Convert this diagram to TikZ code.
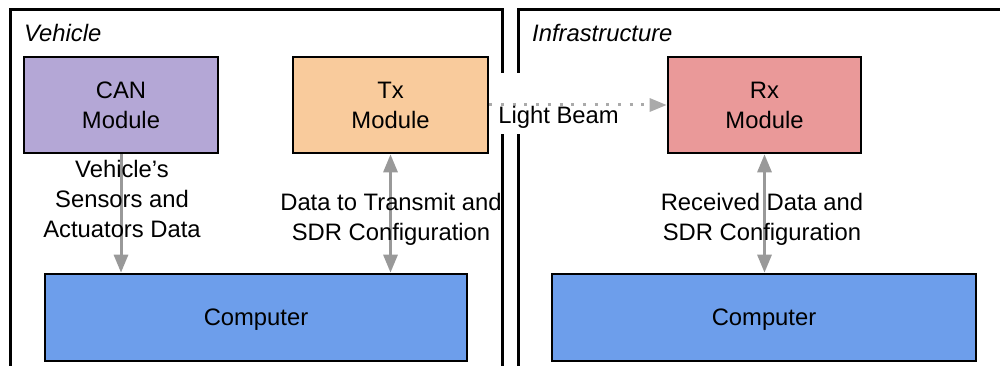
\documentclass[tikz,border=0pt]{standalone}
\usepackage{fontspec}
\setmainfont{Liberation Sans}
\usetikzlibrary{arrows.meta}

\definecolor{canfill}{HTML}{B4A7D6}
\definecolor{txfill}{HTML}{F9CB9C}
\definecolor{rxfill}{HTML}{EA9999}
\definecolor{pcfill}{HTML}{6D9EEB}
\definecolor{linkgray}{HTML}{999999}
\definecolor{beamgray}{HTML}{AAAAAA}

\begin{document}
\begin{tikzpicture}[
  x=1pt, y=-1pt,
  every node/.style={font=\fontsize{23.8}{30}\selectfont, inner sep=0pt},
  frame/.style={draw=black, line width=3pt},
  module/.style={draw=black, line width=2.6pt, align=center},
  pc/.style={module, fill=pcfill, minimum height=87pt, text depth=0pt},
  link/.style={draw=linkgray, line width=3pt},
  tipdown/.style={-{Triangle[length=18pt,width=14pt]}},
  tipboth/.style={{Triangle[length=18pt,width=14pt]}-{Triangle[length=18pt,width=14pt]}},
  beam/.style={draw=beamgray, line width=3pt, dash pattern=on 3pt off 8.7pt,
               -{Triangle[length=17pt,width=13pt]}},
  caption/.style={align=center},
  title/.style={anchor=base west, font=\fontsize{23.8}{30}\selectfont\itshape}
]
\useasboundingbox (0,0) rectangle (1000,366);
\clip (0,0) rectangle (1000,366);

% two open-bottomed frames
\draw[frame] (10,380) -- (10,10) -- (502,10) -- (502,380);
\draw[frame] (518,380) -- (518,10) -- (1010,10);
\node[title] (vehtitle) at (24,42) {Vehicle};
\node[title] (inftitle) at (532,42) {Infrastructure};

% white gap behind the beam label, cutting through the frames
\node[fill=white, minimum width=134pt, minimum height=61pt] (beamgap) at (559,103.5) {};

% modules
\node[module, fill=canfill, minimum width=194pt, minimum height=96pt] (can) at (121,105) {CAN\\Module};
\node[module, fill=txfill, minimum width=195pt, minimum height=96pt] (tx) at (390.5,105) {Tx\\Module};
\node[module, fill=rxfill, minimum width=193pt, minimum height=96pt] (rx) at (764.5,105) {Rx\\Module};
\node[pc, minimum width=422pt] (pcv) at (256,317.5) {Computer};
\node[pc, minimum width=424pt] (pci) at (764,317.5) {Computer};

% data links
\draw[link, tipdown] (can.south) -- (can.south |- pcv.north);
\draw[link, tipboth] (tx.south) -- (tx.south |- pcv.north);
\draw[link, tipboth] (rx.south) -- (rx.south |- pci.north);

% optical link
\draw[beam] (tx.east) -- (rx.west);

% link captions
\node[caption] (canlbl) at (122,199) {Vehicle’s\\Sensors and\\Actuators Data};
\node[caption] (txlbl) at (391,219.5) {Data to Transmit and\\SDR Configuration};
\node[caption] (rxlbl) at (762,219.5) {Received Data and\\SDR Configuration};
\node (beamlbl) at (558.5,117.5) {Light Beam};
\end{tikzpicture}
\end{document}
